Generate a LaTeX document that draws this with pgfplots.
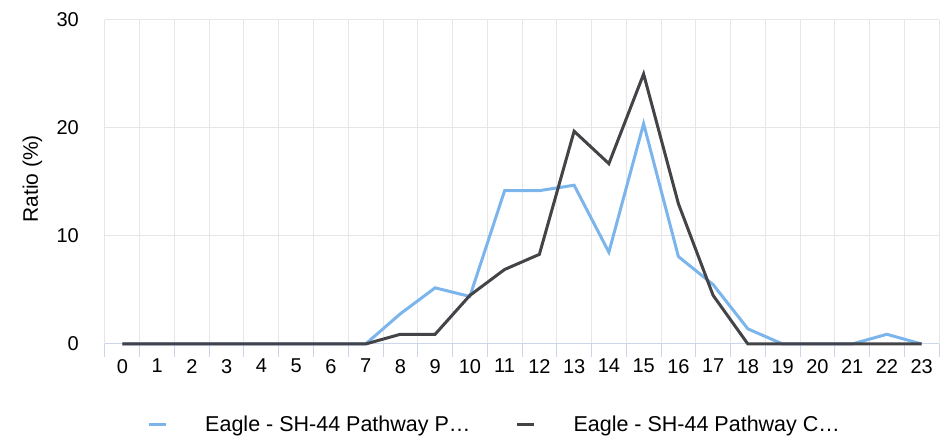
\documentclass[border=0pt]{standalone}
\usepackage{fontspec}
\setmainfont{Liberation Sans}
\usepackage{pgfplots}
\pgfplotsset{compat=1.18}
\definecolor{pblue}{HTML}{7CB5EC}
\definecolor{pdark}{HTML}{434348}
\definecolor{gridc}{HTML}{E6E6E6}
\definecolor{axisc}{HTML}{CCD6EB}

\begin{document}
\begin{tikzpicture}
\path[use as bounding box] (-105pt,-97pt) rectangle (841pt,344pt);
\begin{axis}[
  at={(0,0)}, anchor=south west,
  scale only axis, width=834pt, height=324pt,
  xmin=-0.5, xmax=23.5, ymin=0, ymax=30,
  xtick={0,...,23}, ytick={0,10,20,30},
  minor xtick={-0.5,0.5,...,23.5},
  axis x line*=bottom, axis y line*=left,
  x axis line style={axisc, line width=1pt},
  y axis line style={draw=none},
  ymajorgrids, xminorgrids,
  major grid style={gridc, line width=1pt},
  minor grid style={gridc, line width=1pt},
  major tick length=0pt, minor tick length=13pt,
  tick align=outside,
  minor tick style={axisc, line width=1pt},
  /pgf/number format/assume math mode=true,
  tick label style={font=\fontsize{20}{23}\selectfont, inner sep=0pt},
  xticklabel style={anchor=north, yshift=-15pt},
  yticklabel style={anchor=east, xshift=-26pt},
  ylabel={Ratio (\%)},
  ylabel style={at={(axis description cs:-0.0869,0.51)}, anchor=center, font=\fontsize{21}{24}\selectfont},
  clip=false,
  legend columns=2,
  legend style={draw=none, fill=none, at={(axis description cs:0.0504,-0.247)}, anchor=west,
    inner sep=0pt, font=\fontsize{21.5}{25}\selectfont,
    /tikz/every odd column/.append style={column sep=38pt},
    /tikz/every even column/.append style={column sep=45pt},
    nodes={inner sep=0pt}},
  legend image code/.code={\draw[#1] (0pt,0pt) -- (17pt,0pt);},
]
\addplot[pblue, line width=3pt] coordinates {
  (0,0) (1,0) (2,0) (3,0) (4,0) (5,0) (6,0) (7,0)
  (8,2.8) (9,5.2) (10,4.4) (11,14.2) (12,14.2) (13,14.7)
  (14,8.5) (15,20.4) (16,8.1) (17,5.5) (18,1.4) (19,0)
  (20,0) (21,0) (22,0.9) (23,0)};
\addlegendentry{Eagle - SH-44 Pathway P…}
\addplot[pdark, line width=3pt] coordinates {
  (0,0) (1,0) (2,0) (3,0) (4,0) (5,0) (6,0) (7,0)
  (8,0.9) (9,0.9) (10,4.5) (11,6.9) (12,8.3) (13,19.7)
  (14,16.7) (15,25.0) (16,13.0) (17,4.5) (18,0) (19,0)
  (20,0) (21,0) (22,0) (23,0)};
\addlegendentry{Eagle - SH-44 Pathway C…}
\end{axis}
\end{tikzpicture}
\end{document}
